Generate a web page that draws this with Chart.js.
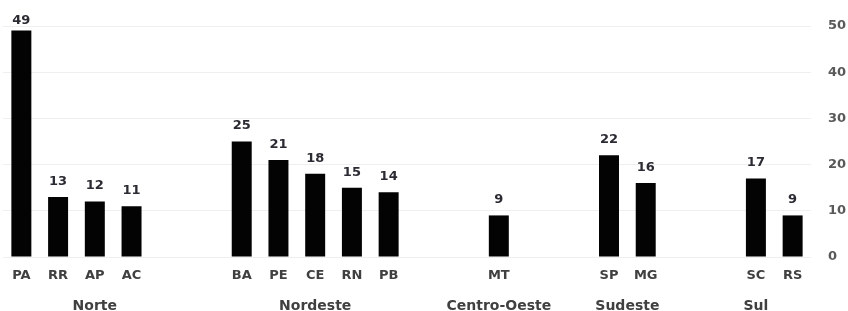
<!DOCTYPE html>
<html><head><meta charset="utf-8">
<script src="https://cdn.jsdelivr.net/npm/chart.js@4"></script>
<style>html,body{margin:0;padding:0;background:#fff;}#wrap{width:848px;height:311px;position:relative;}</style>
</head><body><div id="wrap"><canvas id="c"></canvas></div>
<script>
const categories = ['PA','RR','AP','AC','','','BA','PE','CE','RN','PB','','','MT','','','SP','MG','','','SC','RS'];
const values = [49,13,12,11,null,null,25,21,18,15,14,null,null,9,null,null,22,16,null,null,17,9];
const groupNames = ['Norte','Nordeste','Centro-Oeste','Sudeste','Sul'];
const groupCenters = [2, 8, 13, 16.5, 20];
const yTicks = [0,10,20,30,40,50];

const FONT = '"DejaVu Sans", sans-serif';

const dataLabels = {
  id: 'dataLabels',
  afterDatasetsDraw(chart) {
    const ctx = chart.ctx;
    const meta = chart.getDatasetMeta(0);
    ctx.save();
    ctx.font = 'bold 13px ' + FONT;
    ctx.fillStyle = '#2b2b33';
    ctx.textAlign = 'center';
    ctx.textBaseline = 'bottom';
    meta.data.forEach((bar, i) => {
      const v = values[i];
      if (v === null) return;
      const y = Math.max(bar.y - 9, 27);
      ctx.fillText(String(v), bar.x, y);
    });
    ctx.restore();
  }
};

new Chart(document.getElementById('c'), {
  type: 'bar',
  data: {
    labels: categories,
    datasets: [{
      data: values,
      backgroundColor: '#030303',
      borderWidth: 0,
      barPercentage: 0.544,
      categoryPercentage: 1.0
    }]
  },
  options: {
    responsive: true,
    maintainAspectRatio: false,
    animation: false,
    layout: { padding: { left: 3, top: 26, right: 0, bottom: 0 } },
    plugins: { legend: { display: false }, tooltip: { enabled: false } },
    scales: {
      x: {
        type: 'category',
        position: 'bottom',
        weight: 0,
        grid: { display: false, drawTicks: false },
        border: { display: false },
        ticks: { font: { family: FONT, size: 13, weight: 'bold' }, color: '#404040', padding: 11, autoSkip: false, maxRotation: 0 },
        afterFit(s) { s.height = 26; }
      },
      x2: {
        type: 'linear',
        position: 'bottom',
        weight: 1,
        offset: false,
        min: -0.5,
        max: categories.length - 0.5,
        grid: { display: false, drawTicks: false, offset: false },
        border: { display: false },
        afterBuildTicks(s) { s.ticks = groupCenters.map(v => ({ value: v })); },
        ticks: {
          font: { family: FONT, size: 14, weight: 'bold' }, color: '#404040', padding: 15,
          autoSkip: false, maxRotation: 0,
          callback(value) { const i = groupCenters.indexOf(value); return i >= 0 ? groupNames[i] : ''; }
        },
        afterFit(s) { s.height = 28; }
      },
      y: {
        position: 'right',
        min: 0,
        max: 50,
        grid: { color: '#efefef', drawTicks: false, lineWidth: 1 },
        border: { display: false },
        afterBuildTicks(s) { s.ticks = yTicks.map(v => ({ value: v })); },
        ticks: { font: { family: FONT, size: 13, weight: 'bold' }, color: '#595959', padding: 17 },
        afterFit(s) { s.width = 37; }
      }
    }
  },
  plugins: [dataLabels]
});
</script></body></html>
